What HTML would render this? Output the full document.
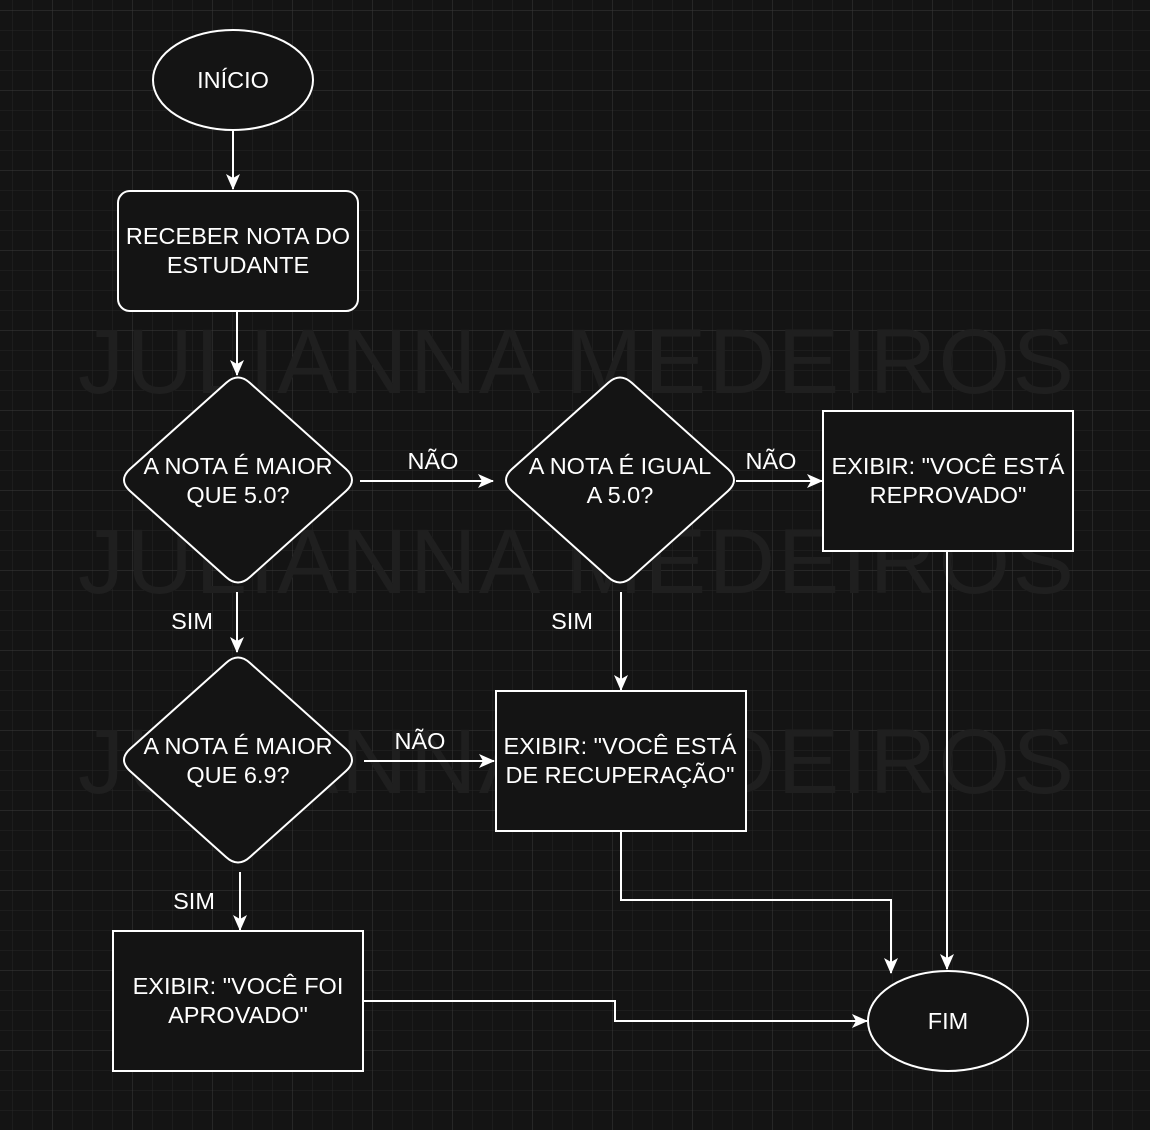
<!DOCTYPE html>
<html><head><meta charset="utf-8"><style>
html,body{margin:0;padding:0;background:#141414;}
svg{display:block}
text{font-family:"Liberation Sans",Arial,sans-serif;fill:#fff;font-size:23.5px;text-anchor:middle;}
.wm{font-size:92px;fill:#1f1f1f;text-anchor:start;letter-spacing:2.5px}
</style></head><body>
<svg width="1150" height="1130" viewBox="0 0 1150 1130" xmlns="http://www.w3.org/2000/svg">
<defs>
<pattern id="minor" x="12" y="10" width="20" height="20" patternUnits="userSpaceOnUse">
<path d="M0 0V20M0 0H20" stroke="#262626" stroke-width="1" fill="none"/>
</pattern>
<pattern id="major" x="52" y="10" width="80" height="80" patternUnits="userSpaceOnUse">
<path d="M0 0V80M0 0H80" stroke="#3a3a3a" stroke-width="1" fill="none"/>
</pattern>
<marker id="ar" viewBox="0 0 16 16" refX="15" refY="8" markerWidth="16" markerHeight="16" markerUnits="userSpaceOnUse" orient="auto">
<path d="M0 1L16 8L0 15L4 8Z" fill="#fff"/>
</marker>
<path id="dia" d="M-12 -97 Q0 -108 12 -97 L108 -11 Q120 0 108 11 L12 97 Q0 108 -12 97 L-108 11 Q-120 0 -108 -11 Z"/>
</defs>
<rect width="1150" height="1130" fill="#141414"/>
<rect width="1150" height="1130" fill="url(#minor)"/>
<rect width="1150" height="1130" fill="url(#major)"/>
<text class="wm" x="78" y="393">JULIANNA MEDEIROS</text>
<text class="wm" x="78" y="593">JULIANNA MEDEIROS</text>
<text class="wm" x="78" y="793">JULIANNA MEDEIROS</text>

<g stroke="#fff" stroke-width="2" fill="#141414">
<ellipse cx="233" cy="80" rx="80" ry="50"/>
<rect x="118" y="191" width="240" height="120" rx="12"/>
<use href="#dia" x="238" y="480"/>
<use href="#dia" x="620" y="480"/>
<use href="#dia" x="238" y="760"/>
<rect x="823" y="411" width="250" height="140"/>
<rect x="496" y="691" width="250" height="140"/>
<rect x="113" y="931" width="250" height="140"/>
<ellipse cx="948" cy="1021" rx="80" ry="50"/>
</g>

<g stroke="#fff" stroke-width="2" fill="none" marker-end="url(#ar)">
<path d="M233 130V189"/>
<path d="M237 312V375"/>
<path d="M360 481H493"/>
<path d="M736 481H822"/>
<path d="M947 551V969"/>
<path d="M237 592V652"/>
<path d="M364 761H494"/>
<path d="M621 592V690"/>
<path d="M621 831V900H891V973"/>
<path d="M240 872V930"/>
<path d="M363 1001H615V1021H867"/>
</g>

<text x="233" y="88">INÍCIO</text>
<text x="238" y="244">RECEBER NOTA DO</text>
<text x="238" y="273">ESTUDANTE</text>
<text x="238" y="474">A NOTA É MAIOR</text>
<text x="238" y="503">QUE 5.0?</text>
<text x="620" y="474">A NOTA É IGUAL</text>
<text x="620" y="503">A 5.0?</text>
<text x="948" y="474">EXIBIR: "VOCÊ ESTÁ</text>
<text x="948" y="503">REPROVADO"</text>
<text x="238" y="754">A NOTA É MAIOR</text>
<text x="238" y="783">QUE 6.9?</text>
<text x="620" y="754">EXIBIR: "VOCÊ ESTÁ</text>
<text x="620" y="783">DE RECUPERAÇÃO"</text>
<text x="238" y="994">EXIBIR: "VOCÊ FOI</text>
<text x="238" y="1023">APROVADO"</text>
<text x="948" y="1029">FIM</text>
<text x="433" y="469">NÃO</text>
<text x="771" y="469">NÃO</text>
<text x="420" y="749">NÃO</text>
<text x="192" y="629">SIM</text>
<text x="572" y="629">SIM</text>
<text x="194" y="909">SIM</text>
</svg>
</body></html>
